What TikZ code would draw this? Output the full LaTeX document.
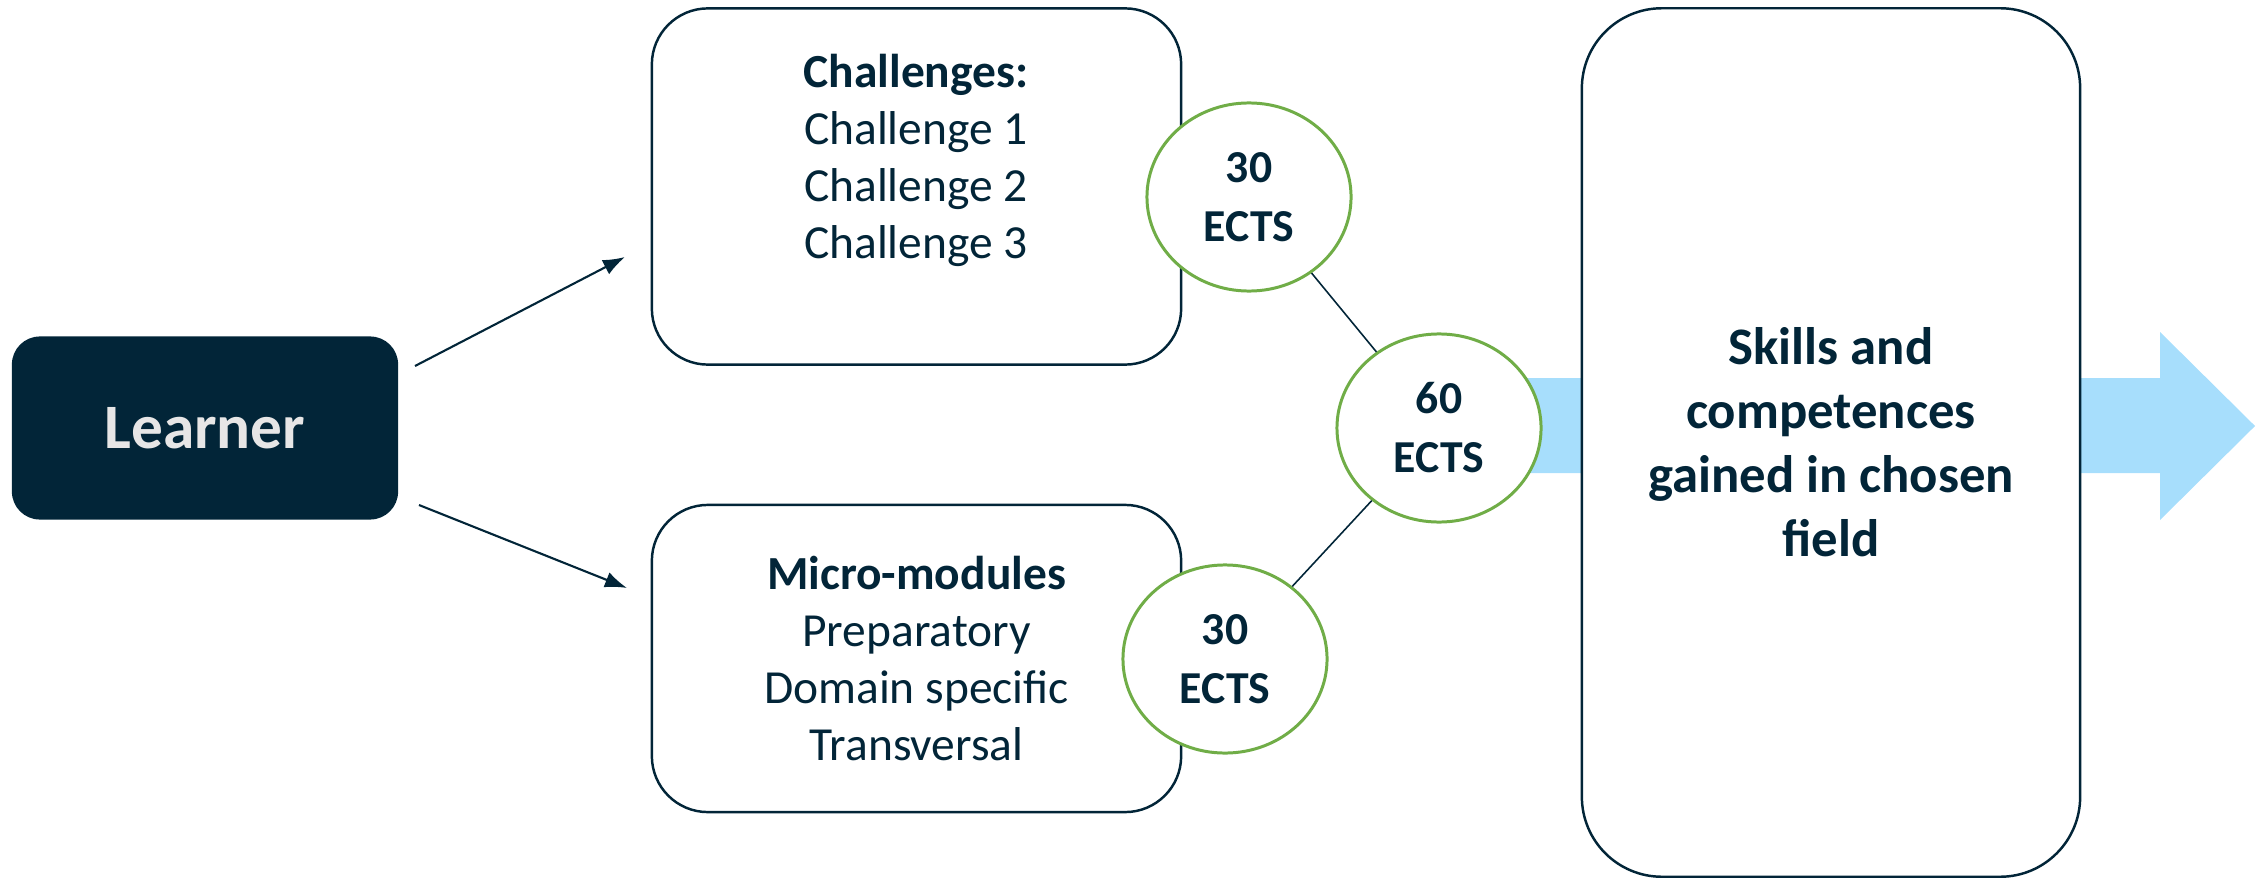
\documentclass[tikz,border=0pt]{standalone}
\usepackage{fontspec}
\setmainfont{Carlito}
\usetikzlibrary{positioning, shapes.geometric, arrows.meta}
\tikzstyle{pixels} = [x = 0.01cm, y = -0.01cm]
\definecolor{navyColor}{RGB}{2,37,56}
\definecolor{ectsColor}{RGB}{112,173,71}
\definecolor{flowColor}{RGB}{167,222,252}
\definecolor{learnerText}{RGB}{231,230,230}
\tikzstyle{learnerStyle} = [fill=navyColor, rounded corners = .28cm, minimum width = 3.86cm, minimum height = 1.83cm, text=learnerText, font=\fontsize{18}{21}\selectfont\bfseries]
\tikzstyle{moduleBox} = [draw=navyColor, line width = .7pt, fill=white, rounded corners = .56cm, minimum width = 5.29cm]
\tikzstyle{moduleText} = [text=navyColor, align=center, font=\fontsize{13.5}{16.2}\selectfont]
\tikzstyle{ectsStyle} = [ellipse, draw=ectsColor, line width = .85pt, fill=white, minimum width = 2.04cm, minimum height = 1.88cm, inner sep = 0pt, text=navyColor, align=center, font=\fontsize{13}{16.8}\selectfont\bfseries]
\tikzstyle{skillsStyle} = [draw=navyColor, line width = .7pt, fill=white, rounded corners = .8cm, minimum width = 4.98cm, minimum height = 8.68cm, text=navyColor, align=center, font=\fontsize{15}{18.2}\selectfont\bfseries]
\tikzstyle{linkLine} = [draw=navyColor, line width = .45pt]
\tikzstyle{learnerArrow} = [draw=navyColor, line width = .6pt, -{Latex[length = 2.2mm, width = 1.6mm]}]
\tikzstyle{flowArrow} = [fill=flowColor]

\begin{document}
\begin{tikzpicture}[pixels]
            \useasboundingbox (0,0) rectangle (2267,879);
            % wide arrow behind the boxes
            \fill [flowArrow] (1440,378) -- (2160,378) -- (2160,332) -- (2255,426)
              -- (2160,520) -- (2160,473) -- (1440,473) -- cycle;

            \node [learnerStyle] (learner) at (205,428) {Learner};

            \node [moduleBox, minimum height = 3.56cm] (challenges) at (916.5,186.5) {};
            \node [moduleText] (challengesText) at (916,160)
              {\textbf{Challenges:}\\Challenge 1\\Challenge 2\\Challenge 3};
            \node [moduleBox, moduleText, minimum height = 3.07cm] (modules) at (916.5,658.5)
              {\textbf{Micro-modules}\\Preparatory\\Domain specific\\Transversal};

            \node [skillsStyle] (skills) at (1831,442.5)
              {Skills and\\competences\\gained in chosen\\field};

            \node [ectsStyle] (topEcts) at (1249,197) {30\\ECTS};
            \node [ectsStyle] (totalEcts) at (1439,428) {60\\ECTS};
            \node [ectsStyle] (bottomEcts) at (1225,659) {30\\ECTS};

            \draw [linkLine] (topEcts) -- (totalEcts);
            \draw [linkLine] (totalEcts) -- (bottomEcts);

            \coordinate (upStart) at (415,366);
            \coordinate (upEnd) at (625,257);
            \coordinate (downStart) at (419,505);
            \coordinate (downEnd) at (627,588);
            \draw [learnerArrow] (upStart) -- (upEnd);
            \draw [learnerArrow] (downStart) -- (downEnd);
          \end{tikzpicture}
\end{document}
